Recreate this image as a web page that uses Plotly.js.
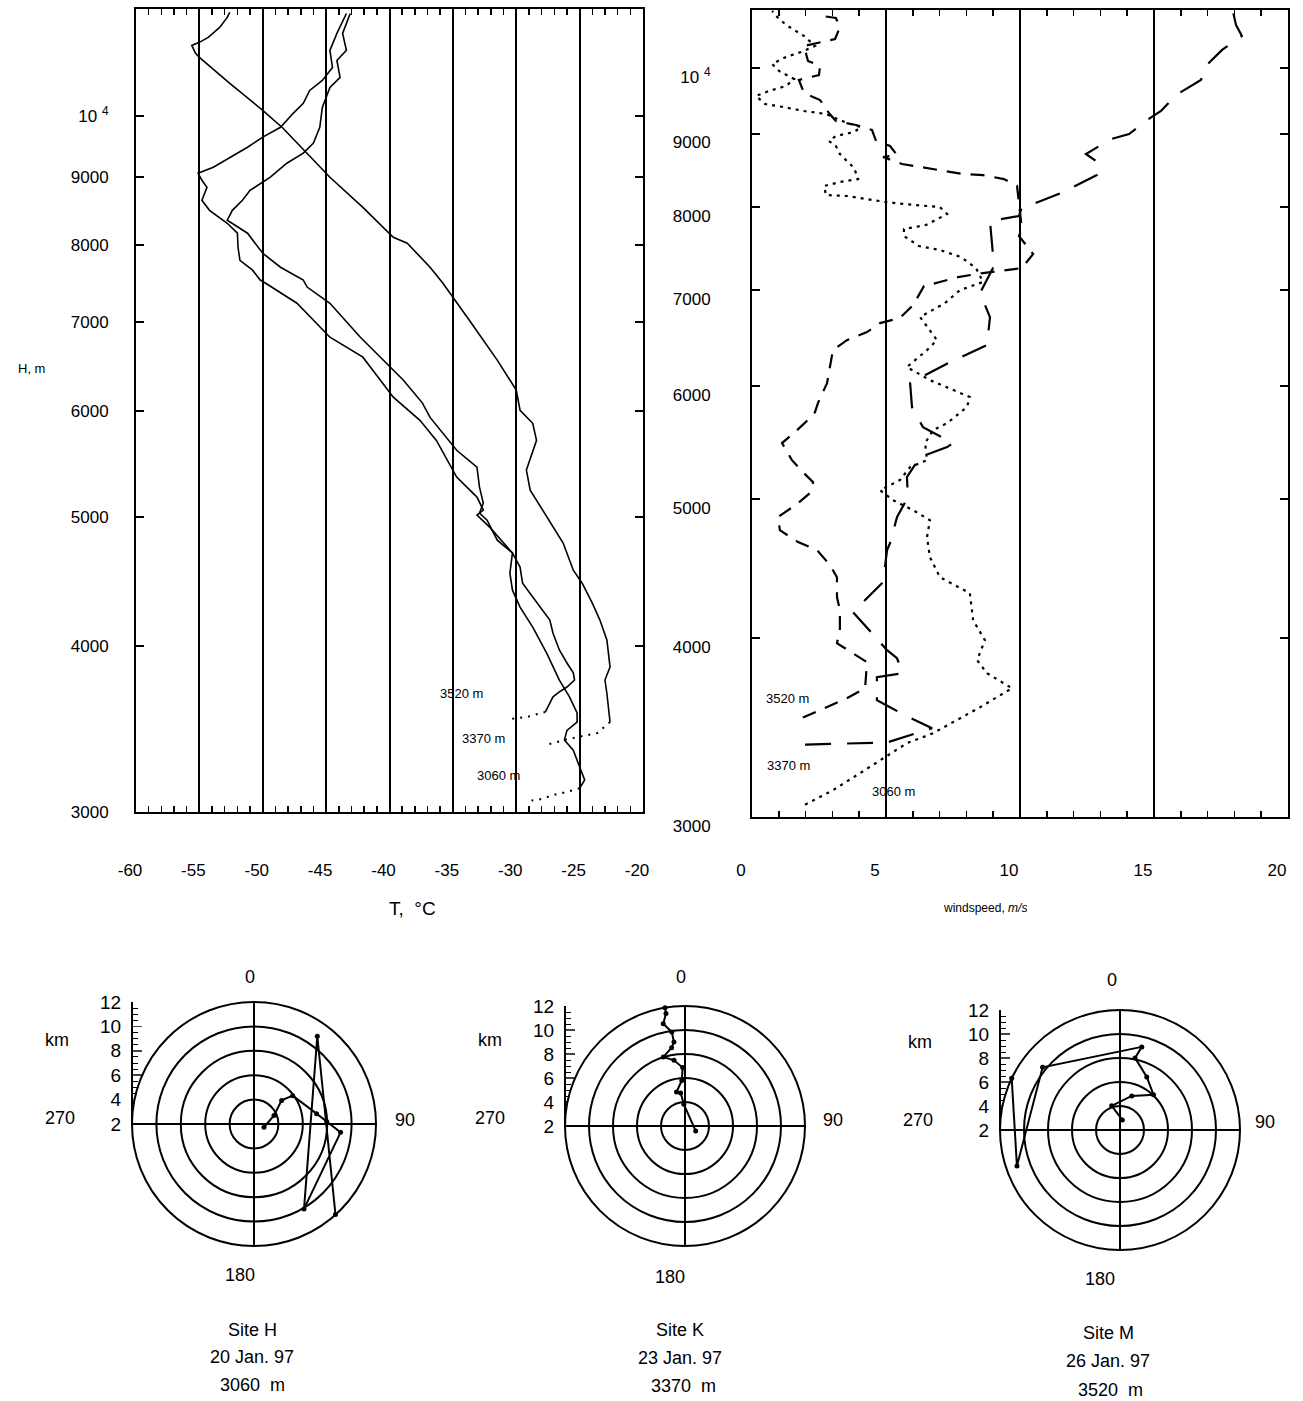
<!DOCTYPE html>
<html>
<head>
<meta charset="utf-8">
<script src="https://cdn.plot.ly/plotly-3.0.1.min.js"></script>
<style>html,body{margin:0;padding:0;background:#fff;}#chart{width:1303px;height:1401px;}</style>
</head>
<body>
<div id="chart"></div>
<script>
// ---------------- Temperature profiles (T in °C, H in m) ----------------
const temp3060_T = [-43.4,-44.15,-44.7,-44.5,-45.3,-46.3,-46.8,-47.6,-48.6,-50.0,-51.2,-52.6,-53.9,-55.1,-54.8,-54.4,-54.8,-54.2,-52.8,-52.0,-51.95,-51.8,-50.8,-50.2,-49.8,-47.3,-44.7,-42.1,-39.7,-37.6,-36.3,-34.7,-33.1,-32.6,-33.1,-32.1,-30.3,-30.5,-30.3,-29.7,-28.7,-27.6,-26.6,-25.8,-25.2,-25.2,-26.0,-26.2,-25.5,-25.0,-24.6,-25.0];
const temp3060_H = [11937,11533,11200,10874,10631,10449,10218,10044,9805,9639,9472,9309,9150,9055,8947,8838,8641,8493,8305,8163,7967,7790,7658,7528,7489,7232,6819,6588,6148,5906,5705,5354,5172,5057,5014,4910,4696,4534,4403,4276,4131,3949,3769,3661,3561,3505,3455,3398,3339,3243,3171,3126];
const temp3060Surf_T = [-25.0,-26.0,-27.1,-28.0,-28.8];
const temp3060Surf_H = [3126,3106,3089,3068,3060];

const temp3370_T = [-52.6,-52.8,-53.4,-54.3,-55.0,-55.6,-55.3,-55.0,-52.6,-50.0,-48.4,-46.5,-44.7,-42.1,-39.7,-38.6,-36.8,-35.8,-34.8,-33.7,-31.5,-30.0,-29.7,-28.7,-28.4,-29.2,-28.9,-27.6,-26.3,-25.5,-24.8,-24.0,-23.4,-22.85,-22.6,-23.0,-22.85,-22.6];
const temp3370_H = [11962,11857,11652,11454,11356,11296,11141,11065,10578,10096,9788,9375,8993,8537,8107,8023,7697,7489,7269,7022,6555,6223,6010,5876,5705,5419,5235,4996,4777,4558,4456,4305,4181,4039,3855,3769,3684,3505];
const temp3370Surf_T = [-22.6,-23.6,-26.0,-27.5];
const temp3370Surf_H = [3505,3439,3402,3372];

const temp3520_T = [-43.1,-43.7,-43.4,-44.15,-43.9,-44.7,-45.3,-45.5,-46.0,-46.8,-48.1,-49.4,-51.0,-51.6,-52.4,-52.8,-51.2,-50.0,-48.6,-46.8,-46.5,-44.7,-42.3,-40.2,-38.9,-37.4,-36.8,-34.7,-33.1,-32.9,-32.6,-32.9,-32.3,-31.5,-30.3,-29.7,-29.5,-28.7,-27.9,-27.35,-27.1,-26.6,-26.0,-25.5,-25.4,-26.0,-26.6,-27.1,-27.5,-27.7];
const temp3520_H = [11937,11533,11200,11007,10687,10504,10148,9805,9540,9375,9213,8993,8792,8641,8493,8348,8163,7885,7697,7528,7437,7232,6819,6520,6331,6085,5936,5608,5447,5262,5118,5031,4970,4801,4696,4582,4456,4351,4254,4181,4087,3970,3882,3816,3769,3724,3693,3661,3598,3567];
const temp3520Surf_T = [-27.7,-28.5,-29.2,-30.0,-30.7];
const temp3520Surf_H = [3567,3548,3535,3528,3520];

// ---------------- Wind speed profiles (m/s, H in m) ----------------
const wind3060_V = [1.98,3.02,4.03,4.96,5.78,6.75,7.65,8.51,9.70,8.77,8.40,8.69,8.25,8.13,7.01,6.64,6.53,6.64,6.01,5.26,4.78,5.52,5.90,6.53,6.46,6.75,7.28,8.02,8.13,6.64,5.78,6.53,6.90,6.27,7.20,7.76,8.62,8.36,7.80,7.01,6.23,5.67,5.67,6.49,7.28,7.01,5.67,5.00,3.54,2.76,2.69,3.28,3.96,3.81,3.54,3.28,3.13,2.87,3.13,3.81,4.07,3.54,2.76,1.94,1.16,0.49,0.15,0.63,1.27,1.57,1.01,0.75,1.27,1.83,2.35,1.94,1.27,0.90,0.75];
const wind3060_H = [3060,3132,3219,3303,3378,3432,3505,3579,3690,3780,3860,3986,4116,4299,4411,4555,4704,4834,4913,4992,5073,5156,5265,5324,5472,5587,5650,5798,5892,6055,6183,6354,6457,6701,6853,6998,7089,7250,7379,7463,7511,7633,7719,7769,7908,7997,8036,8062,8140,8153,8272,8325,8365,8515,8611,8709,8821,8893,8964,9022,9095,9154,9287,9332,9392,9438,9560,9637,9715,9825,9952,10065,10178,10261,10360,10528,10716,10872,10960];

const wind3520_V = [1.90,2.72,3.54,4.22,4.29,3.17,3.28,3.28,3.17,3.17,2.91,2.43,1.72,1.04,0.97,1.72,2.16,2.28,1.90,1.49,1.12,1.68,2.16,2.35,2.46,2.80,2.91,3.02,3.54,4.29,4.78,5.52,6.01,6.42,7.01,7.69,8.62,10.07,10.49,9.96,10.07,9.89,9.40,8.62,7.87,7.16,6.42,5.60,4.89,5.41,5.15,4.63,4.48,3.88,3.13,2.87,2.54,1.94,1.75,2.50,2.54,2.09,1.94,3.10,3.28,3.13,2.61];
const wind3520_H = [3520,3573,3631,3690,3848,3967,4051,4183,4272,4411,4497,4607,4667,4757,4858,4968,5049,5139,5222,5324,5472,5587,5696,5751,5835,6026,6183,6354,6457,6541,6636,6690,6831,7043,7089,7146,7192,7250,7415,7633,7719,8272,8365,8419,8433,8474,8515,8570,8667,8695,8821,8893,9051,9124,9183,9302,9498,9606,9809,9888,10032,10113,10360,10477,10681,10837,10872];

const wind3370_V = [1.98,3.84,5.04,6.72,5.71,5.15,4.66,4.66,5.63,5.41,5.04,3.77,4.89,5.04,5.15,5.41,5.82,5.78,6.27,7.28,7.50,6.38,5.97,5.90,7.39,8.77,8.88,8.51,9.03,8.88,9.96,10.07,10.49,11.53,12.20,12.87,12.95,12.46,13.40,14.07,14.74,15.26,15.82,16.75,17.01,17.54,18.28,18.06,17.95];
const wind3370_H = [3370,3375,3382,3460,3533,3579,3620,3756,3780,3872,3923,4170,4376,4607,4659,4858,5017,5181,5350,5437,5472,5614,5798,6026,6233,6406,6701,6964,7273,7819,7882,7997,8036,8179,8298,8419,8583,8709,8921,8993,9198,9332,9575,9809,10065,10294,10528,10716,10942];

// ---------------- Wind-direction hodographs (height km, direction deg) ----------------
const siteH_km  = [2.86,3.78,4.98,5.93,7.2,7.96,9.13,10.08,10.87,11.98];
const siteH_dir = [108,67,49.5,53.8,80.6,88,95.5,149.5,35.8,138];
const siteK_km  = [2.98,3.81,4.78,4.92,5.81,6.87,7.55,8.03,8.62,9.06,9.9,10.72,11.5,12.0];
const siteK_dir = [115,357,352.5,346,356,357.7,350.5,342.6,350.3,352.5,352,348,350.4,350.4];
const siteM_km  = [2.86,4.13,5.0,6.05,6.95,8.14,9.16,10.3,11.1,12.0];
const siteM_dir = [13,341,19,43.6,26.8,11.8,14.7,309,250.7,295.5];

// ---------------- Tick labels ----------------
const heightTicks = [3000,4000,5000,6000,7000,8000,9000,10000];
const heightTickText = ['3000','4000','5000','6000','7000','8000','9000','10 <sup>4</sup>'];
const tempTicks = [-60,-55,-50,-45,-40,-35,-30,-25,-20];
const tempTickText = ['-60','-55','-50','-45','-40','-35','-30','-25','-20'];
const windTicks = [0,5,10,15,20];
const kmTicks = [2,4,6,8,10,12];
const dirTicks = ['0','90','180','270'];
const siteNames = ['Site H','Site K','Site M'];
const siteDates = ['20 Jan. 97','23 Jan. 97','26 Jan. 97'];
const siteAlts = ['3060  m','3370  m','3520  m'];
const soundingLabels = ['3520 m','3370 m','3060 m'];

// ---------------- helpers ----------------
const W = 1303, Hh = 1401;
const px = x => x / W;
const py = y => 1 - y / Hh;
const FONT = 'Liberation Sans, Arial, Helvetica, sans-serif';
function ann(text, x, y, size, extra) {
  return Object.assign({text: text, x: px(x), y: py(y), xref: 'paper', yref: 'paper',
    showarrow: false, xanchor: 'center', yanchor: 'middle',
    font: {family: FONT, size: size, color: 'black'}}, extra || {});
}

const traces = [];
function line(x, y, dash, width, xa, ya) {
  traces.push({type: 'scatter', mode: 'lines', x: x, y: y, xaxis: xa, yaxis: ya,
    line: {color: 'black', width: width, dash: dash}, hoverinfo: 'skip'});
}
// temperature panel
line(temp3060_T, temp3060_H, 'solid', 1.6, 'x', 'y');
line(temp3370_T, temp3370_H, 'solid', 1.6, 'x', 'y');
line(temp3520_T, temp3520_H, 'solid', 1.6, 'x', 'y');
line(temp3060Surf_T, temp3060Surf_H, '2px,6px', 2, 'x', 'y');
line(temp3370Surf_T, temp3370Surf_H, '2px,6px', 2, 'x', 'y');
line(temp3520Surf_T, temp3520Surf_H, '2px,6px', 2, 'x', 'y');
// wind panel
line(wind3060_V, wind3060_H, '3px,5px', 2.2, 'x2', 'y2');
line(wind3520_V, wind3520_H, '14px,10px', 2.2, 'x2', 'y2');
line(wind3370_V, wind3370_H, '26px,16px', 2.2, 'x2', 'y2');

// hodographs
[[siteH_km, siteH_dir, 'polar'], [siteK_km, siteK_dir, 'polar2'], [siteM_km, siteM_dir, 'polar3']].forEach(s => {
  traces.push({type: 'scatterpolar', mode: 'lines+markers', r: s[0], theta: s[1], subplot: s[2],
    line: {color: 'black', width: 2}, marker: {color: 'black', size: 5}, hoverinfo: 'skip', cliponaxis: false});
});
// invisible anchor traces that create the km scale axes beside each hodograph
['3','4','5'].forEach(n => {
  traces.push({type: 'scatter', mode: 'markers', x: [0], y: [7], xaxis: 'x' + n, yaxis: 'y' + n,
    marker: {opacity: 0}, hoverinfo: 'skip'});
});

const TICKSIZE = 17;
const baseAxis = {showline: true, linecolor: 'black', linewidth: 2, mirror: 'ticks', zeroline: false,
  tickcolor: 'black', tickfont: {family: FONT, size: TICKSIZE, color: 'black'}, fixedrange: true};

function polarDef(cx, cy, R) {
  return {
    domain: {x: [px(cx - R), px(cx + R)], y: [py(cy + R), py(cy - R)]},
    bgcolor: 'white',
    radialaxis: {range: [2, 12], tickvals: [4, 6, 8, 10, 12], showticklabels: false, ticks: '',
      showline: false, gridcolor: 'black', gridwidth: 2},
    angularaxis: {rotation: 90, direction: 'clockwise', tickvals: [0, 90, 180, 270], showticklabels: false,
      ticks: '', gridcolor: 'black', gridwidth: 2, linecolor: 'black', linewidth: 2}
  };
}
function kmAxis(cx, cy, R) {
  return {domain: [py(cy), py(cy - R)], anchor: 'free', position: px(cx - R),
    range: [2, 12], tickvals: kmTicks, ticktext: kmTicks.map(String), ticks: 'inside', ticklen: 9, tickwidth: 1.5,
    minor: {dtick: 0.5, tick0: 2, ticks: 'inside', ticklen: 5, tickwidth: 1, tickcolor: 'black'},
    showline: true, linecolor: 'black', linewidth: 2, showgrid: false, zeroline: false,
    tickfont: {family: FONT, size: 19, color: 'black'}, ticklabelstandoff: 6, fixedrange: true};
}
function hiddenX(cx, R, ya) {
  return {domain: [px(cx - R), px(cx - R + 10)], anchor: ya, visible: false, showticklabels: false,
    range: [-1, 1], fixedrange: true};
}

const layout = {
  width: W, height: Hh, margin: {l: 0, r: 0, t: 0, b: 0},
  paper_bgcolor: 'white', plot_bgcolor: 'white', showlegend: false,
  font: {family: FONT, color: 'black'},
  xaxis: Object.assign({}, baseAxis, {domain: [px(136), px(643)], anchor: 'y', range: [-60, -20],
    tickvals: tempTicks, ticktext: tempTickText, ticks: 'inside', ticklen: 6, tickwidth: 1.5,
    showgrid: true, gridcolor: 'black', gridwidth: 2,
    minor: {dtick: 1, tick0: -60, ticks: 'inside', ticklen: 6, tickwidth: 1.5, tickcolor: 'black', showgrid: false},
    ticklabelstandoff: 42, ticklabelshift: -6}),
  yaxis: Object.assign({}, baseAxis, {domain: [py(812), py(9)], anchor: 'x', type: 'log',
    range: [Math.log10(3000), Math.log10(12030)], tickvals: heightTicks, ticktext: heightTickText,
    ticks: 'inside', ticklen: 8, tickwidth: 2, showgrid: false, ticklabelstandoff: 22}),
  xaxis2: Object.assign({}, baseAxis, {domain: [px(752), px(1288)], anchor: 'y2', range: [0, 20],
    tickvals: windTicks, ticks: 'inside', ticklen: 6, tickwidth: 1.5,
    showgrid: true, gridcolor: 'black', gridwidth: 2,
    minor: {dtick: 1, tick0: 0, ticks: 'inside', ticklen: 6, tickwidth: 1.5, tickcolor: 'black', showgrid: false},
    ticklabelstandoff: 37, ticklabelshift: -11}),
  yaxis2: Object.assign({}, baseAxis, {domain: [py(817), py(10)], anchor: 'x2', type: 'log',
    range: [Math.log10(3000), Math.log10(10977)], tickvals: heightTicks, ticktext: heightTickText,
    ticks: 'inside', ticklen: 8, tickwidth: 2, showgrid: false, ticklabelstandoff: 36, ticklabelshift: 9}),
  polar: polarDef(254, 1124, 122),
  polar2: polarDef(685, 1126, 120),
  polar3: polarDef(1120, 1130, 120),
  yaxis3: kmAxis(254, 1124, 122),
  yaxis4: kmAxis(685, 1126, 120),
  yaxis5: kmAxis(1120, 1130, 120),
  xaxis3: hiddenX(254, 122, 'y3'),
  xaxis4: hiddenX(685, 120, 'y4'),
  xaxis5: hiddenX(1120, 120, 'y5'),
  annotations: [
    ann('H, m', 31, 368, 13),
    ann('T,  °C', 412, 908, 19),
    ann('windspeed, <i>m/s</i>', 985, 908, 12),
    ann(soundingLabels[0], 462, 693, 13),
    ann(soundingLabels[1], 483, 738, 13),
    ann(soundingLabels[2], 498, 775, 13),
    ann(soundingLabels[0], 787, 698, 13),
    ann(soundingLabels[1], 788, 766, 13),
    ann(soundingLabels[2], 893, 791, 13),
    // hodograph H
    ann(dirTicks[0], 250, 977, 18), ann(dirTicks[1], 405, 1120, 18), ann(dirTicks[2], 240, 1275, 18), ann(dirTicks[3], 60, 1118, 18),
    ann('km', 57, 1040, 18),
    // hodograph K
    ann(dirTicks[0], 681, 977, 18), ann(dirTicks[1], 833, 1120, 18), ann(dirTicks[2], 670, 1277, 18), ann(dirTicks[3], 490, 1118, 18),
    ann('km', 490, 1040, 18),
    // hodograph M
    ann(dirTicks[0], 1112, 980, 18), ann(dirTicks[1], 1265, 1122, 18), ann(dirTicks[2], 1100, 1279, 18), ann(dirTicks[3], 918, 1120, 18),
    ann('km', 920, 1042, 18),
    // site captions
    ann(siteNames[0], 252, 1330, 18), ann(siteDates[0], 252, 1357, 18), ann(siteAlts[0], 252, 1385, 18),
    ann(siteNames[1], 680, 1330, 18), ann(siteDates[1], 680, 1358, 18), ann(siteAlts[1], 683, 1386, 18),
    ann(siteNames[2], 1108, 1333, 18), ann(siteDates[2], 1108, 1361, 18), ann(siteAlts[2], 1110, 1390, 18)
  ]
};

Plotly.newPlot('chart', traces, layout, {displayModeBar: false, staticPlot: true});
</script>
</body>
</html>
